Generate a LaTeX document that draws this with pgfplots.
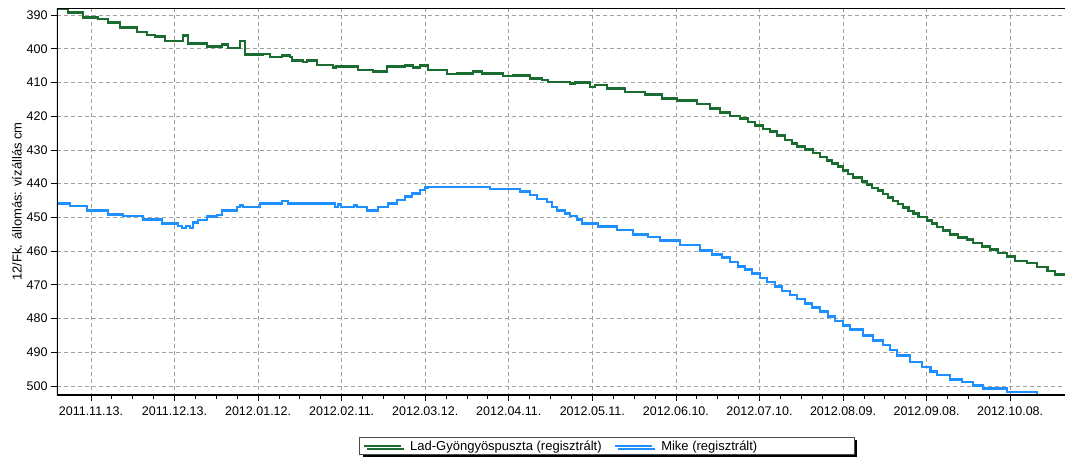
\documentclass[border=0pt]{standalone}
\usepackage{fontspec}
\setmainfont{Liberation Sans}
\usepackage{pgfplots}
\pgfplotsset{compat=1.18}
\usetikzlibrary{shadows}
\definecolor{cgreen}{RGB}{26,108,48}
\definecolor{cblue}{RGB}{30,144,255}
\definecolor{cgrid}{RGB}{160,160,160}
\begin{document}
\begin{tikzpicture}
\begin{axis}[
  scale only axis, width=1008pt, height=387pt,
  at={(0pt,0pt)}, anchor=south west,
  xmin=-12.2, xmax=349.7, ymin=387.9, ymax=502.7, y dir=reverse,
  axis line style={draw=none},
  xtick={0,30,...,330},
  xticklabels={2011.11.13.,2011.12.13.,2012.01.12.,2012.02.11.,2012.03.12.,2012.04.11.,2012.05.11.,2012.06.10.,2012.07.10.,2012.08.09.,2012.09.08.,2012.10.08.},
  minor x tick num=3,
  ytick={390,400,...,500},
  tick align=outside,
  xtick pos=bottom, ytick pos=left,
  major tick length=6pt, minor tick length=4pt,
  every tick/.style={black, line width=0.8pt},
  grid=major,
  major grid style={cgrid, dash pattern=on 4pt off 3pt, line width=0.8pt},
  /pgf/number format/assume math mode=true,
  /pgf/number format/1000 sep={},
  tick label style={font=\fontsize{12.5}{14}\selectfont, black},
  xticklabel style={yshift=-2pt},
  ylabel={12/Fk. állomás: vízállás cm},
  ylabel style={font=\fontsize{13}{15}\selectfont, at={(axis description cs:-0.0397,0.5)}, anchor=center},
  legend columns=2,
  legend style={at={(axis description cs:0.5456,-0.1318)}, anchor=center,
    draw=black!70, line width=0.8pt, fill=white, font=\fontsize{13}{15}\selectfont,
    inner xsep=3pt, inner ysep=1pt,
    drop shadow={shadow xshift=3pt, shadow yshift=-3pt, fill=black, opacity=1},
    /tikz/every odd column/.append style={column sep=6pt},
    /tikz/every even column/.append style={column sep=10pt}},
  legend cell align=left,
  legend image code/.code={\draw[#1] (0pt,0pt) -- (37pt,0pt);},
]
\addplot[const plot, cgreen, line width=2.6pt] coordinates {
(-12.2,388.2) (-8.3,389.2) (-2.9,390.7) (2.5,391.2) (6.1,392.2) (10.4,393.6) (16.5,395.0) (20.1,395.9) (23.0,396.4) (26.6,397.7)
(33.0,396.0) (34.8,398.4) (41.7,399.4) (47.0,398.8) (49.2,399.8) (53.5,397.7) (55.3,401.7) (61.8,401.5) (64.3,402.4) (68.6,402.0)
(71.5,402.4) (72.2,403.4) (76.1,403.9) (77.6,403.5) (81.1,404.8) (86.9,405.6) (88.0,405.2) (95.9,406.3) (101.3,406.8) (106.3,405.3)
(112.7,405.0) (115.6,405.6) (118.1,405.0) (121.0,406.3) (127.8,407.5) (131.4,407.3) (137.2,406.8) (140.4,407.4) (147.9,408.1) (151.5,407.9)
(157.6,408.8) (161.9,409.3) (164.1,409.8) (172.0,410.3) (173.8,410.0) (179.2,411.3) (181.0,410.8) (185.3,411.8) (191.7,412.8) (198.9,413.5)
(205.0,414.7) (210.4,415.4) (217.6,416.4) (222.3,417.7) (225.9,418.9) (229.4,419.9) (233.0,420.7) (235.9,421.7) (238.4,422.7) (241.3,423.8)
(243.8,424.6) (246.3,425.8) (249.2,427.1) (251.7,428.1) (253.5,428.9) (256.4,429.9) (259.2,430.9) (261.8,432.1) (264.3,433.1) (266.1,434.1)
(268.2,434.9) (270.0,436.1) (271.8,437.1) (273.6,438.1) (276.8,439.3) (278.6,440.3) (280.4,441.3) (282.6,442.1) (284.4,443.1) (286.2,444.1)
(288.0,445.1) (289.8,446.1) (291.6,447.1) (293.4,448.1) (295.2,448.9) (297.0,449.9) (300.2,450.9) (302.0,451.9) (303.8,452.9) (305.9,453.9)
(308.4,455.1) (311.3,455.9) (314.5,456.6) (316.7,457.6) (319.9,458.6) (322.8,459.6) (325.7,460.6) (328.9,461.6) (331.8,462.9) (336.1,463.6)
(339.7,464.7) (343.3,465.9) (346.1,467.0) (349.7,467.0)
};
\addlegendentry{Lad-Gyöngyöspuszta (regisztrált)}
\addplot[const plot, cblue, line width=2.6pt] coordinates {
(-12.2,445.9) (-7.5,446.6) (-1.4,447.9) (6.1,449.1) (11.5,449.6) (18.7,450.6) (25.5,451.8) (31.2,452.6) (32.7,453.2) (34.1,452.6)
(35.5,453.2) (36.6,451.5) (38.4,450.8) (41.7,449.8) (45.2,449.3) (47.0,447.9) (52.4,446.9) (53.5,446.4) (54.6,446.9) (60.7,445.9)
(68.6,445.2) (70.7,445.9) (87.6,446.9) (88.7,446.2) (89.8,446.9) (94.4,446.4) (95.5,446.9) (99.1,447.9) (103.1,446.9) (106.6,445.9)
(109.9,444.9) (112.7,443.9) (115.3,442.9) (118.1,441.9) (119.9,441.2) (121.0,441.0) (143.3,441.6) (154.0,442.4) (157.6,443.4) (160.1,444.6)
(163.7,445.4) (165.5,446.9) (167.3,447.9) (170.2,448.8) (172.0,449.6) (174.5,450.6) (176.3,451.8) (182.0,452.8) (188.9,453.8) (194.6,455.1)
(200.0,455.8) (204.3,456.8) (211.5,458.2) (218.7,459.8) (223.0,461.0) (226.6,462.0) (229.4,463.3) (232.3,464.5) (234.8,465.5) (237.3,466.7)
(240.2,468.0) (242.7,469.2) (245.6,470.5) (248.1,471.8) (251.0,473.0) (253.5,474.2) (256.4,475.5) (258.9,476.7) (261.8,478.0) (264.6,479.5)
(267.1,480.8) (270.0,482.0) (272.5,483.3) (277.2,485.0) (280.8,486.5) (284.4,487.9) (286.9,489.4) (289.4,490.9) (294.1,492.9) (298.4,494.4)
(301.3,495.8) (303.8,496.8) (308.4,498.1) (312.7,498.8) (316.7,499.8) (320.3,500.8) (328.9,501.8) (339.7,503.0) (349.7,503.5)
};
\addlegendentry{Mike (regisztrált)\hspace*{92pt}}
\draw[black, line width=0.8pt] (axis cs:-12.2,387.9) -- (axis cs:349.7,387.9);
\draw[black, line width=2pt] (axis cs:-12.2,387.9) -- (axis cs:-12.2,502.7) -- (axis cs:349.7,502.7);
\end{axis}
\pgfresetboundingbox
\path (-57pt,-62pt) rectangle (1008pt,395pt);
\end{tikzpicture}
\end{document}
